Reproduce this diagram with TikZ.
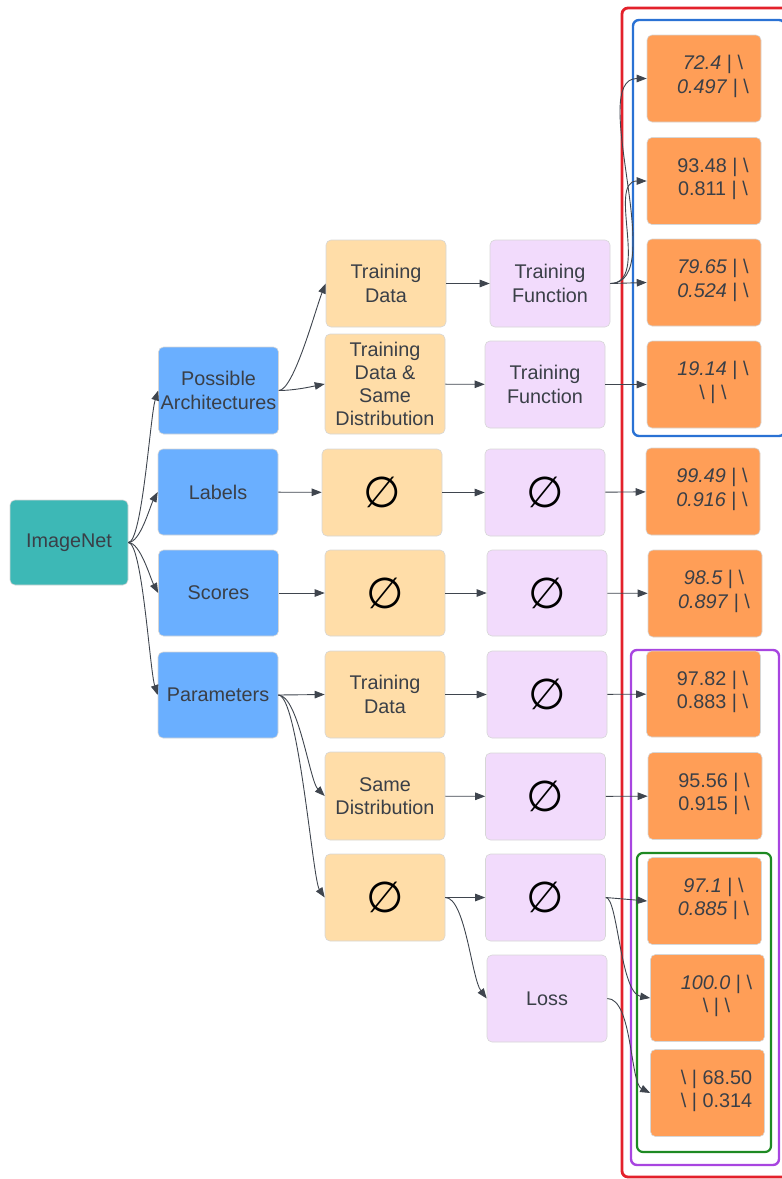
\documentclass[tikz,border=0pt]{standalone}
\usepackage{fontspec}
\setmainfont{Liberation Sans}
\newfontfamily\symfont{DejaVu Sans}
\usetikzlibrary{arrows.meta}

\definecolor{txt}{HTML}{3A3F47}
\definecolor{cImg}{HTML}{3DB8B6}
\definecolor{cBlue}{HTML}{6AAFFF}
\definecolor{cData}{HTML}{FFDDA8}
\definecolor{cFun}{HTML}{F2DBFC}
\definecolor{cRes}{HTML}{FF9E57}
\definecolor{cArr}{HTML}{3F454E}
\definecolor{cRed}{HTML}{E3212B}
\definecolor{cBlueFrame}{HTML}{2A72D4}
\definecolor{cPurple}{HTML}{A845E0}
\definecolor{cGreen}{HTML}{1E8A23}

\newcommand\esym{{\color{black}\symfont\fontsize{43}{43}\selectfont ∅}}
\newcommand\bs{\textbackslash}

\tikzset{
  base/.style={rounded corners=5pt, draw=black!16, line width=0.6pt, text=txt,
    font=\fontsize{19.8}{23.2}\selectfont, align=center, inner sep=2pt},
  srcbox/.style={base, fill=cImg, minimum width=118pt, minimum height=85pt},
  catbox/.style={base, fill=cBlue, minimum width=120pt, minimum height=86pt},
  databox/.style={base, fill=cData, minimum width=120pt, minimum height=87pt},
  funbox/.style={base, fill=cFun, minimum width=120pt, minimum height=87pt},
  resbox/.style={base, fill=cRes, minimum width=114pt, minimum height=87pt},
  restext/.style={text=txt, font=\fontsize{19.8}{23.2}\selectfont, align=center, inner sep=0pt},
  arr/.style={draw=cArr, line width=0.9pt, -{Triangle[length=10pt,width=7.5pt]}},
  frame/.style={rounded corners=6pt, line width=2.4pt},
}

\begin{document}
\begin{tikzpicture}[x=1pt,y=-1pt]
\useasboundingbox (0,0) rectangle (782,1179);

% grouping frames
\draw[frame, cRed, line width=2.8pt] (622,8) rectangle (788,1177);
\draw[frame, cBlueFrame] (633,20) rectangle (785,436);
\draw[frame, cPurple] (631,650) rectangle (779,1165);
\draw[frame, cGreen, line width=2.2pt] (637,853) rectangle (771,1152);

% source and categories
\node[srcbox] (img) at (69,542.5) {ImageNet};
\node[catbox, minimum height=87pt] (pa) at (218.5,390.5) {Possible\\Architectures};
\node[catbox] (lab) at (218,492) {Labels};
\node[catbox] (sco) at (218.5,593) {Scores};
\node[catbox] (par) at (218,695) {Parameters};

% data column
\node[databox] (td1) at (386,283.5) {Training\\Data};
\node[databox, minimum height=100pt] (tdsd) at (385,384) {Training\\Data \&\\Same\\Distribution};
\node[databox] (e1) at (382,492.5) {\esym};
\node[databox, minimum height=86pt] (e2) at (385,593) {\esym};
\node[databox] (td2) at (385,694.5) {Training\\Data};
\node[databox, minimum height=88pt] (sd) at (385,796) {Same\\Distribution};
\node[databox] (e3) at (385,897.5) {\esym};

% function column
\node[funbox] (tf1) at (550,283.5) {Training\\Function};
\node[funbox] (tf2) at (545,384.5) {Training\\Function};
\node[funbox] (f1) at (545,492.5) {\esym};
\node[funbox, minimum height=86pt] (f2) at (547,593) {\esym};
\node[funbox] (f3) at (547,694.5) {\esym};
\node[funbox] (f4) at (545.5,796.5) {\esym};
\node[funbox] (f5) at (545.5,897.5) {\esym};
\node[funbox] (loss) at (547,998.5) {Loss};

% results
\node[resbox] (r1) at (704,78.5) {};
\node[restext] (r1t) at ([xshift=9pt,yshift=2pt]r1.center) {\textit{72.4} | \bs\\\textit{0.497} | \bs};
\node[resbox] (r2) at (704,181) {};
\node[restext] (r2t) at ([xshift=9pt,yshift=2pt]r2.center) {93.48 | \bs\\0.811 | \bs};
\node[resbox] (r3) at (704,282.5) {};
\node[restext] (r3t) at ([xshift=9pt,yshift=2pt]r3.center) {\textit{79.65} | \bs\\\textit{0.524} | \bs};
\node[resbox] (r4) at (704,384.5) {};
\node[restext] (r4t) at ([xshift=9pt,yshift=2pt]r4.center) {\textit{19.14} | \bs\\\bs{} | \bs};
\node[resbox] (r5) at (703,491.5) {};
\node[restext] (r5t) at ([xshift=9pt,yshift=2pt]r5.center) {\textit{99.49} | \bs\\\textit{0.916} | \bs};
\node[resbox] (r6) at (705,593.5) {};
\node[restext] (r6t) at ([xshift=9pt,yshift=2pt]r6.center) {\textit{98.5} | \bs\\\textit{0.897} | \bs};
\node[resbox, minimum height=86pt] (r7) at (703.5,694) {};
\node[restext] (r7t) at ([xshift=9pt,yshift=2pt]r7.center) {97.82 | \bs\\0.883 | \bs};
\node[resbox] (r8) at (705,796) {};
\node[restext] (r8t) at ([xshift=9pt,yshift=2pt]r8.center) {95.56 | \bs\\0.915 | \bs};
\node[resbox] (r9) at (704.5,901) {};
\node[restext] (r9t) at ([xshift=9pt,yshift=2pt]r9.center) {\textit{97.1} | \bs\\\textit{0.885} | \bs};
\node[resbox] (r10) at (707.5,998) {};
\node[restext] (r10t) at ([xshift=9pt,yshift=2pt]r10.center) {\textit{100.0} | \bs\\\bs{} | \bs};
\node[resbox] (r11) at (707.5,1093) {};
\node[restext] (r11t) at ([xshift=9pt,yshift=2pt]r11.center) {\bs{} | 68.50\\\bs{} | 0.314};

% ImageNet fan-out
\draw[arr] (img.east) .. controls +(14,0) and +(-8,25) .. (pa.west);
\draw[arr] (img.east) .. controls +(12,0) and +(-8,15) .. (lab.west);
\draw[arr] (img.east) .. controls +(12,0) and +(-8,-15) .. (sco.west);
\draw[arr] (img.east) .. controls +(14,0) and +(-8,-25) .. (par.west);

% architectures branch
\draw[arr] (pa.east) .. controls +(15,0) and +(-10,25) .. (td1.west);
\draw[arr] (pa.east) .. controls +(15,0) and +(-15,3) .. (tdsd.west);
\draw[arr] (td1) -- (tf1);
\draw[arr] (tdsd) -- (tf2);
\draw[arr] (tf1.east) .. controls +(60,0) and +(-60,0) .. (r1.west);
\draw[arr] (tf1.east) .. controls +(40,0) and +(-40,0) .. (r2.west);
\draw[arr] (tf1.east) -- (r3.west);
\draw[arr] (tf2.east) -- (r4.west);

% labels and scores
\draw[arr] (lab) -- (e1);
\draw[arr] (e1) -- (f1);
\draw[arr] (f1) -- (r5);
\draw[arr] (sco) -- (e2);
\draw[arr] (e2) -- (f2);
\draw[arr] (f2) -- (r6);

% parameters branch
\draw[arr] (par.east) -- (td2.west);
\draw[arr] (par.east) .. controls +(20,0) and +(-15,-15) .. (sd.west);
\draw[arr] (par.east) .. controls +(20,0) and +(-12,-18) .. (e3.west);
\draw[arr] (td2) -- (f3);
\draw[arr] (f3) -- (r7);
\draw[arr] (sd) -- (f4);
\draw[arr] (f4) -- (r8);
\draw[arr] (e3.east) -- (f5.west);
\draw[arr] (e3.east) .. controls +(20,0) and +(-15,-20) .. (loss.west);
\draw[arr] (f5.east) -- (r9.west);
\draw[arr] (f5.east) .. controls +(12,0) and +(-30,-5) .. (r10.west);
\draw[arr] (loss.east) .. controls +(25,0) and +(-20,-10) .. (r11.west);
\end{tikzpicture}
\end{document}
